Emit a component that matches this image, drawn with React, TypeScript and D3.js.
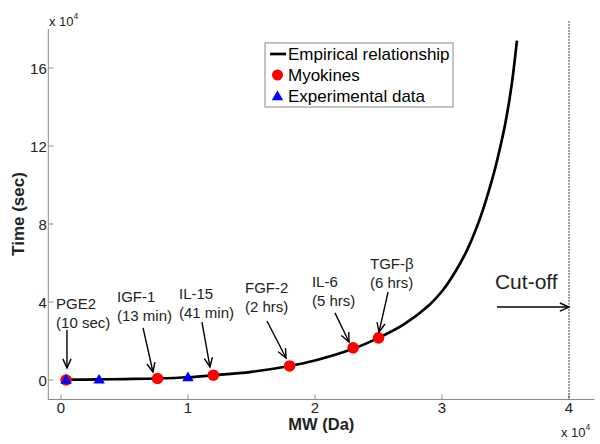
import React from "react";
import * as d3 from "d3";

// Empirical relationship curve (MW in Da, time in sec)
const curveMW = [400, 3000, 5000, 7600, 10000, 12000, 15000, 18000, 20000, 23000, 25000, 27000, 29000, 30000, 31000, 32000, 33000, 34000, 34500, 35000, 35500, 35900];
const curveTime = [150, 300, 480, 780, 1400, 2400, 4200, 7200, 10000, 16000, 21600, 28500, 38500, 45500, 55000, 67000, 83000, 104000, 117000, 132000, 152000, 174000];

// Myokines (red circles)
const myokineNames = ["PGE2", "IGF-1", "IL-15", "FGF-2", "IL-6", "TGF-β"];
const myokineTimes = ["(10 sec)", "(13 min)", "(41 min)", "(2 hrs)", "(5 hrs)", "(6 hrs)"];
const myokineMW = [400, 7600, 12000, 18000, 23000, 25000];
const myokineT = [10, 780, 2460, 7200, 16500, 21600];

// Experimental data (blue triangles)
const expMW = [400, 3000, 10000];
const expT = [250, 300, 1500];

// Annotation label anchors and arrows (data units)
const labelMW = [-390, 4410, 9290, 14490, 19760, 24330];
const labelT = [36400, 40000, 41500, 44600, 47700, 56900];
const arrowFromMW = [470, 6460, 11100, 16220, 21570, 25750];
const arrowFromT = [25600, 26700, 29700, 30260, 34400, 45100];
const arrowToMW = [470, 7240, 11730, 17720, 22680, 25040];
const arrowToT = [6150, 4100, 6670, 11300, 19500, 24600];

const xTicks = [0, 10000, 20000, 30000, 40000];
const yTicks = [0, 40000, 80000, 120000, 160000];
const cutoffMW = 40000;

const W = 600, H = 444;
const font = "'Liberation Sans', Arial, sans-serif";

function Arrow({ x1, y1, x2, y2 }: { x1: number; y1: number; x2: number; y2: number }) {
  const ang = Math.atan2(y2 - y1, x2 - x1);
  const L = 10, a = 0.42;
  const p1 = [x2 - L * Math.cos(ang - a), y2 - L * Math.sin(ang - a)];
  const p2 = [x2 - L * Math.cos(ang + a), y2 - L * Math.sin(ang + a)];
  return (
    <g stroke="#000" strokeWidth={1.4} fill="none">
      <line x1={x1} y1={y1} x2={x2} y2={y2} />
      <polyline points={`${p1[0]},${p1[1]} ${x2},${y2} ${p2[0]},${p2[1]}`} />
    </g>
  );
}

export default function App() {
  const x = d3.scaleLinear().domain([-1000, 42000]).range([48.3, 594.4]);
  const y = d3.scaleLinear().domain([-10000, 180000]).range([399.5, 29]);

  const line = d3
    .line<number>()
    .x((d, i) => x(curveMW[i]))
    .y((d, i) => y(curveTime[i]))
    .curve(d3.curveCatmullRom.alpha(0.5));

  const axisColor = "#8a8a8a";
  const textColor = "#222";
  const x0 = x.range()[0], x1 = x.range()[1];
  const yb = y.range()[0], yt = y.range()[1];

  const tri = (cx: number, cy: number, s: number) =>
    `${cx},${cy - s} ${cx - s * 1.05},${cy + s * 0.75} ${cx + s * 1.05},${cy + s * 0.75}`;

  return (
    <svg width={W} height={H} style={{ position: "absolute", left: 0, top: 0, background: "#fff" }} fontFamily={font}>
      <rect width={W} height={H} fill="#fff" />
      {/* axes */}
      <line x1={x0} y1={yb} x2={x1} y2={yb} stroke={axisColor} strokeWidth={1} />
      <line x1={x0} y1={yb} x2={x0} y2={yt} stroke={axisColor} strokeWidth={1} />
      {xTicks.map((t) => (
        <g key={"xt" + t}>
          <line x1={x(t)} x2={x(t)} y1={yb} y2={yb - 5} stroke={axisColor} />
          <text x={x(t)} y={413} textAnchor="middle" fontSize={15} fill={textColor}>
            {t / 10000}
          </text>
        </g>
      ))}
      {yTicks.map((t) => (
        <g key={"yt" + t}>
          <line x1={x0} x2={x0 + 5} y1={y(t)} y2={y(t)} stroke={axisColor} />
          <text x={x0 - 1.5} y={y(t) + 5.5} textAnchor="end" fontSize={15} fill={textColor}>
            {t / 10000}
          </text>
        </g>
      ))}
      {/* exponent labels */}
      <text x={49} y={26} fontSize={13} fill={textColor}>
        x 10<tspan dy={-7} fontSize={8.5}>4</tspan>
      </text>
      <text x={561} y={437} fontSize={13} fill={textColor}>
        x 10<tspan dy={-7} fontSize={8.5}>4</tspan>
      </text>
      {/* axis labels */}
      <text x={(x0 + x1) / 2} y={430} textAnchor="middle" fontSize={16.5} fontWeight="bold" fill={textColor}>
        MW (Da)
      </text>
      <text transform={`translate(24, 214) rotate(-90)`} textAnchor="middle" fontSize={17} fontWeight="bold" fill={textColor}>
        Time (sec)
      </text>

      {/* cut-off line */}
      <line x1={x(cutoffMW)} x2={x(cutoffMW)} y1={y(184000)} y2={yb} stroke="#000" strokeWidth={1} strokeDasharray="1.5,1.5" />

      {/* curve */}
      <path d={line(curveMW) || ""} fill="none" stroke="#000" strokeWidth={2.7} />

      {/* myokines */}
      {myokineMW.map((m, i) => (
        <circle key={"m" + i} cx={x(m)} cy={y(myokineT[i])} r={5.8} fill="#ff0000" />
      ))}
      {/* experimental */}
      {expMW.map((m, i) => (
        <polygon key={"e" + i} points={tri(x(m), y(expT[i]), 5.5)} fill="#0000ff" />
      ))}

      {/* annotations */}
      {myokineNames.map((n, i) => (
        <g key={"a" + i}>
          <text x={x(labelMW[i])} y={y(labelT[i])} fontSize={15} fill={textColor}>
            {n}
          </text>
          <text x={x(labelMW[i])} y={y(labelT[i]) + 19} fontSize={15} fill={textColor}>
            {myokineTimes[i]}
          </text>
          <Arrow x1={x(arrowFromMW[i])} y1={y(arrowFromT[i])} x2={x(arrowToMW[i])} y2={y(arrowToT[i])} />
        </g>
      ))}

      {/* cut-off label */}
      <text x={x(34170)} y={y(46700)} fontSize={21} fill={textColor}>
        Cut-off
      </text>
      <Arrow x1={x(34330)} y1={y(37400)} x2={x(cutoffMW)} y2={y(37400)} />

      {/* legend */}
      <g>
        <rect x={265} y={43} width={188} height={64} fill="#fff" stroke={axisColor} strokeWidth={1} />
        <line x1={270} x2={286} y1={54} y2={54} stroke="#000" strokeWidth={2.7} />
        <text x={288} y={60} fontSize={17} fill="#000">Empirical relationship</text>
        <circle cx={277.5} cy={75} r={5.5} fill="#ff0000" />
        <text x={288} y={81} fontSize={17} fill="#000">Myokines</text>
        <polygon points={tri(277.5, 96, 5.5)} fill="#0000ff" />
        <text x={288} y={102} fontSize={17} fill="#000">Experimental data</text>
      </g>
    </svg>
  );
}
